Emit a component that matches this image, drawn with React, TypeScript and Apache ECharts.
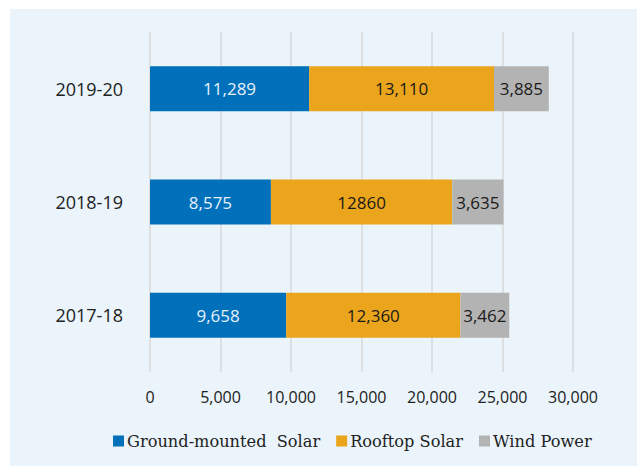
import React, { useEffect, useRef } from "react";
import * as echarts from "echarts";

const categories = ["2017-18", "2018-19", "2019-20"];
const groundSolar = [9658, 8575, 11289];
const rooftopSolar = [12360, 12860, 13110];
const windPower = [3462, 3635, 3885];
const rooftopLabels = ["12,360", "12860", "13,110"];
const xTicks = [0, 5000, 10000, 15000, 20000, 25000, 30000];

const SANS = "Open Sans";
const SLAB = "DejaVu Serif";

export default function App() {
  const ref = useRef<HTMLDivElement>(null);
  useEffect(() => {
    if (!ref.current) return;
    const chart = echarts.init(ref.current, undefined, { renderer: "svg" });
    const fmt = (v: number) => v.toLocaleString("en-US");
    const barLabel = (color: string, f: (p: any) => string) => ({
      show: true,
      position: "inside",
      color,
      fontFamily: SANS,
      fontSize: 17,
      formatter: f,
    });
    chart.setOption({
      animation: false,
      backgroundColor: "#EAF4FA",
      textStyle: { fontFamily: SANS },
      grid: { left: 140, top: 23, right: 64, bottom: 94 },
      legend: {
        top: 424,
        left: 103,
        width: 520,
        padding: 0,
        itemWidth: 11,
        itemHeight: 11,
        itemGap: 16,
        icon: "rect",
        textStyle: { fontFamily: SLAB, fontSize: 16.2, color: "#222", padding: [0, 0, 0, -2] },
        data: ["Ground-mounted  Solar", "Rooftop Solar", "Wind Power"],
      },
      xAxis: {
        type: "value",
        min: 0,
        max: 30000,
        interval: 5000,
        axisLine: { show: false },
        axisTick: { show: false },
        splitLine: { lineStyle: { color: "#D9D9D9", width: 1.5 } },
        axisLabel: {
          margin: 17,
          fontFamily: SANS,
          fontSize: 16,
          color: "#222",
          formatter: (v: number) => (xTicks.includes(v) ? fmt(v) : ""),
        },
      },
      yAxis: {
        type: "category",
        data: categories,
        axisLine: { show: false },
        axisTick: { show: false },
        axisLabel: { margin: 27, fontFamily: SANS, fontSize: 18, color: "#222" },
      },
      series: [
        {
          name: "Ground-mounted  Solar",
          type: "bar",
          stack: "total",
          barWidth: 45,
          data: groundSolar,
          itemStyle: { color: "#0070BA" },
          label: barLabel("#E6F0FA", (p: any) => fmt(p.value)),
        },
        {
          name: "Rooftop Solar",
          type: "bar",
          stack: "total",
          barWidth: 45,
          data: rooftopSolar,
          itemStyle: { color: "#EBA51C" },
          label: barLabel("#1A1A1A", (p: any) => rooftopLabels[p.dataIndex]),
        },
        {
          name: "Wind Power",
          type: "bar",
          stack: "total",
          barWidth: 45,
          data: windPower,
          itemStyle: { color: "#B3B3B3" },
          label: barLabel("#1A1A1A", (p: any) => fmt(p.value)),
        },
      ],
    });
    return () => chart.dispose();
  }, []);
  return (
    <div style={{ position: "fixed", left: 0, top: 0, width: 637, height: 466, background: "#fff" }}>
      <div ref={ref} style={{ position: "absolute", left: 10, top: 9, width: 627, height: 457 }} />
    </div>
  );
}
